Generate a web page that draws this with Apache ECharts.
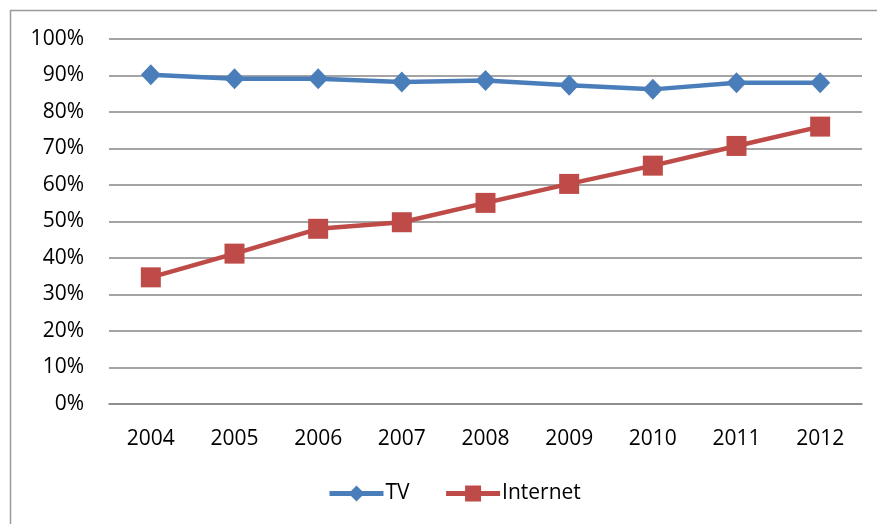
<!DOCTYPE html>
<html>
<head>
<meta charset="utf-8">
<script src="https://cdn.jsdelivr.net/npm/echarts@6/dist/echarts.min.js"></script>
<style>
  html, body { margin: 0; padding: 0; background: #fff; }
  #chart { width: 877px; height: 524px; }
</style>
</head>
<body>
<div id="chart"></div>
<script>
// data
const years = ['2004', '2005', '2006', '2007', '2008', '2009', '2010', '2011', '2012']
const tvValues = [90.2, 89.1, 89.1, 88.2, 88.6, 87.3, 86.2, 88.0, 88.0]
const internetValues = [34.7, 41.2, 48.0, 49.8, 55.1, 60.3, 65.3, 70.7, 76.0]

const font = 'Open Sans'
const myChart = echarts.init(document.getElementById('chart'))

const option = {
  animation: false,
  graphic: [{
    type: 'rect',
    shape: { x: 10.5, y: 10.5, width: 1000, height: 1000 },
    style: { fill: 'none', stroke: '#9a9a9a', lineWidth: 1.5 }
  }],
  grid: { left: 109, right: 15, top: 39, bottom: 120 },
  legend: {
    bottom: 15,
    left: 322,
    itemWidth: 54,
    itemHeight: 20,
    itemGap: 34,
    lineStyle: { width: 5 },
    textStyle: { fontFamily: font, fontSize: 21, color: '#000', padding: [0, 0, 0, -3] },
    data: ['TV', 'Internet']
  },
  xAxis: {
    type: 'category',
    data: years,
    boundaryGap: true,
    axisLine: { lineStyle: { color: '#868686', width: 1.5 } },
    axisTick: { show: false },
    axisLabel: { fontFamily: font, fontSize: 21, color: '#000', margin: 25 }
  },
  yAxis: {
    type: 'value',
    min: 0,
    max: 100,
    interval: 10,
    axisLine: { show: false },
    axisTick: { show: false },
    splitLine: { lineStyle: { color: '#868686', width: 1.5 } },
    axisLabel: { fontFamily: font, fontSize: 21, color: '#000', margin: 25, formatter: '{value}%' }
  },
  series: [
    {
      name: 'TV',
      type: 'line',
      data: tvValues,
      symbol: 'diamond',
      symbolSize: [20, 21],
      lineStyle: { color: '#4a7ebb', width: 4.5 },
      itemStyle: { color: '#4a7ebb' }
    },
    {
      name: 'Internet',
      type: 'line',
      data: internetValues,
      symbol: 'rect',
      symbolSize: 20,
      lineStyle: { color: '#be4b48', width: 4.5 },
      itemStyle: { color: '#be4b48' }
    }
  ]
}
option && myChart.setOption(option)
</script>
</body>
</html>
